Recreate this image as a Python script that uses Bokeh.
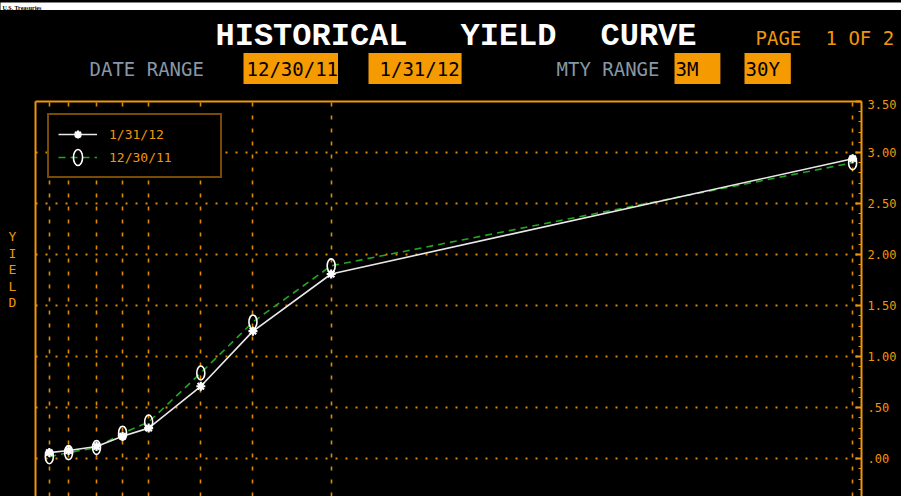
from bokeh.plotting import figure
from bokeh.layouts import column, row
from bokeh.models import (Range1d, LinearAxis, FixedTicker, SingleIntervalTicker,
                          Label, Legend, LegendItem)
from bokeh.embed import file_html
from bokeh.resources import INLINE

# ---- data ----
tenors = ["3M", "6M", "1Y", "2Y", "3Y", "5Y", "7Y", "10Y", "30Y"]
# position of each maturity on Bloomberg's maturity axis (years-equivalent)
maturity_pos = [-0.81, -0.07, 1, 2, 3, 5, 7, 10, 30]
yield_013112 = [0.06, 0.08, 0.12, 0.22, 0.30, 0.71, 1.25, 1.81, 2.94]
yield_123011 = [0.02, 0.06, 0.11, 0.25, 0.36, 0.84, 1.34, 1.89, 2.90]
y_ticks = [0.0, 0.5, 1.0, 1.5, 2.0, 2.5, 3.0, 3.5]
y_tick_labels = [".00", ".50", "1.00", "1.50", "2.00", "2.50", "3.00", "3.50"]
series_names = ["1/31/12", "12/30/11"]
date_range = ["12/30/11", "1/31/12"]
mty_range = ["3M", "30Y"]
page_caption = "U.S. Treasuries"

ORANGE = "#f0960a"
GRID = "#e08a00"
BOX = "#f59a00"
GRAY = "#8797a5"
GREEN = "#22a522"
MONO = "DejaVu Sans Mono"

TOTAL_W, TOTAL_H = 901, 496
STRIP_H = 10           # white strip with the page caption
HEAD_TOP = STRIP_H
HEAD_H = 99 - STRIP_H  # black header strip (chart frame starts at y = 101)
CHART_TOP = HEAD_TOP + HEAD_H
CHART_H = TOTAL_H - CHART_TOP
YCOL_W = 33            # narrow column holding the vertical "YIELD" label
CHART_W = TOTAL_W - YCOL_W


def blank(width, height, bg="black"):
    f = figure(width=width, height=height, x_range=Range1d(0, 1), y_range=Range1d(0, 1),
               x_axis_location=None, y_axis_location=None, output_backend="svg",
               toolbar_location=None, min_border=0, background_fill_color=bg,
               border_fill_color=bg, outline_line_color=None)
    f.grid.visible = False
    return f


# ---- white caption strip ----
strip = blank(TOTAL_W, STRIP_H, bg="white")
strip.add_layout(Label(x=2, y=STRIP_H / 2, x_units="screen", y_units="screen",
                       text=page_caption, text_font="Liberation Serif",
                       text_font_style="bold", text_font_size="6px", text_color="black",
                       text_baseline="middle"))

# ---- header ----
head = blank(TOTAL_W, HEAD_H)


def lab(text, X, Y, size, color, align="left", bold=False, font=MONO, bg=None, pad=None):
    # X, Y: reference picture coordinates -> header-frame screen units (y measured up)
    kw = dict(x=X, y=(HEAD_TOP + HEAD_H) - Y, x_units="screen", y_units="screen", text=text,
              text_font=font, text_font_size=size, text_color=color, text_align=align,
              text_baseline="middle", text_font_style="bold" if bold else "normal")
    if bg is not None:
        kw["background_fill_color"] = bg
        kw["padding"] = pad
    head.add_layout(Label(**kw))


lab("HISTORICAL", 311, 36, "32px", "white", align="center", bold=True, font="Liberation Mono")
lab("YIELD", 508, 36, "32px", "white", align="center", bold=True, font="Liberation Mono")
lab("CURVE", 648, 36, "32px", "white", align="center", bold=True, font="Liberation Mono")
lab("PAGE", 755, 37, "19px", ORANGE)
lab("1 OF 2", 825, 37, "19px", ORANGE)

lab("DATE RANGE", 89, 68, "19px", GRAY)
lab(date_range[0], 243, 68, "19px", "black", bg=BOX, pad=dict(left=3, right=0, top=5, bottom=4))
lab(date_range[1], 368, 68, "19px", "black", bg=BOX, pad=dict(left=11, right=2, top=5, bottom=4))
lab("MTY RANGE", 556, 68, "19px", GRAY)
lab(mty_range[0], 674, 68, "19px", "black", bg=BOX, pad=dict(left=1, right=22, top=5, bottom=4))
lab(mty_range[1], 744, 68, "19px", "black", bg=BOX, pad=dict(left=1, right=11, top=5, bottom=4))

# ---- vertical axis title column ----
ycol = blank(YCOL_W, CHART_H)
ycol.add_layout(Label(x=12, y=(CHART_TOP + CHART_H) - 269, x_units="screen",
                      y_units="screen", text="Y\nI\nE\nL\nD", text_font=MONO,
                      text_font_size="13px", text_color=ORANGE, text_align="center",
                      text_baseline="middle", text_line_height=1.1))

# ---- chart ----
p = figure(width=CHART_W, height=CHART_H, x_range=Range1d(-1.34, 30.34),
           y_range=Range1d(-0.37, 3.5),
           x_axis_location="above", y_axis_location="right",
           output_backend="svg", toolbar_location=None,
           min_border_left=2, min_border_right=40, min_border_top=2, min_border_bottom=0,
           background_fill_color="black", border_fill_color="black", outline_line_color=None)

# top border (x axis without ticks)
xa = p.xaxis[0]
xa.ticker = FixedTicker(ticks=[])
xa.axis_line_color = ORANGE
xa.axis_line_width = 2
xa.major_tick_line_color = None
xa.minor_tick_line_color = None

# right value axis
ya = p.yaxis[0]
ya.ticker = SingleIntervalTicker(interval=0.5, num_minor_ticks=5)
ya.major_label_overrides = {t: s for t, s in zip(y_ticks, y_tick_labels)}
ya.axis_line_color = ORANGE
ya.axis_line_width = 2
ya.major_tick_line_color = ORANGE
ya.minor_tick_line_color = ORANGE
ya.major_tick_in = 6
ya.major_tick_out = 0
ya.minor_tick_in = 3
ya.minor_tick_out = 0
ya.major_tick_line_width = 2
ya.major_label_standoff = 6
ya.major_label_text_color = ORANGE
ya.major_label_text_font = MONO
ya.major_label_text_font_size = "12px"

# left border
la = LinearAxis(ticker=FixedTicker(ticks=[]), axis_line_color=ORANGE, axis_line_width=2,
                major_tick_line_color=None, minor_tick_line_color=None)
p.add_layout(la, "left")

# grids
p.xgrid.ticker = FixedTicker(ticks=maturity_pos)
p.xgrid.grid_line_color = GRID
p.xgrid.grid_line_dash = "4 9"
p.xgrid.grid_line_width = 1.6
p.ygrid.grid_line_color = GRID
p.ygrid.grid_line_dash = "2 8"
p.ygrid.grid_line_width = 2

# series
src = dict(x=maturity_pos, tenor=tenors, a=yield_013112, b=yield_123011)
l_old = p.line("x", "b", source=src, line_color=GREEN, line_width=1.6, line_dash="7 5")
l_new = p.line("x", "a", source=src, line_color="#e8e8e8", line_width=1.6)
m_old = p.ellipse("x", "b", source=src, width=8, height=14, width_units="screen",
                  height_units="screen", fill_color=None, line_color="white", line_width=1.6)
m_new = p.scatter("x", "a", source=src, marker="asterisk", size=9, line_color="white",
                  line_width=2.2)

legend = Legend(items=[LegendItem(label=series_names[0], renderers=[l_new, m_new]),
                       LegendItem(label=series_names[1], renderers=[l_old, m_old])],
                location="top_left", margin=12, padding=9, spacing=3,
                glyph_width=39, glyph_height=20, label_standoff=12, label_width=102,
                label_text_color=ORANGE, label_text_font=MONO, label_text_font_size="13px",
                background_fill_color="black", background_fill_alpha=1.0,
                border_line_color=ORANGE, border_line_width=2)
p.add_layout(legend)

body = row(ycol, p, spacing=0, styles={"background-color": "black"})
layout = column(strip, head, body, spacing=0, styles={"background-color": "black"})

open("out.html", "w").write(file_html(layout, INLINE))
